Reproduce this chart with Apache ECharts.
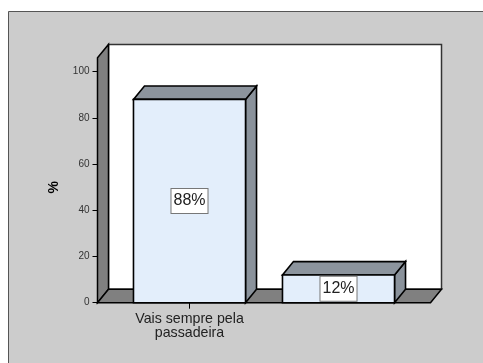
<!DOCTYPE html>
<html>
<head>
<meta charset="utf-8">
<script src="https://cdn.jsdelivr.net/npm/echarts@6/dist/echarts.min.js"></script>
<style>
  html, body { margin: 0; padding: 0; background: #fff; }
  #chart { width: 483px; height: 363px; }
</style>
</head>
<body>
<div id="chart"></div>
<script>
// data
const categories = ['Vais sempre pela\npassadeira', 'Passas onde for mais\npróximo'];
const percents = [88, 12];
const yTicks = [0, 20, 40, 60, 80, 100];

const myChart = echarts.init(document.getElementById('chart'), null, { renderer: 'canvas' });

// 3d look
const depthX = 11;
const depthY = 13.4;
const floorPad = 17.5;
const wallTop = 106;

function renderWalls(params, api) {
  const cs = params.coordSys;
  const y0 = api.coord([0, 0])[1];
  const yTop = api.coord([0, wallTop])[1];
  const xl = cs.x - floorPad;
  const xr = cs.x + cs.width + floorPad;
  const line = { stroke: '#000', lineWidth: 1.5 };
  return {
    type: 'group',
    children: [
      {
        type: 'polygon',
        shape: { points: [[xl + depthX, y0 - depthY], [xr + depthX, y0 - depthY], [xr + depthX, yTop - depthY], [xl + depthX, yTop - depthY]] },
        style: Object.assign({ fill: '#fff' }, line, { stroke: '#333' })
      },
      {
        type: 'polygon',
        shape: { points: [[xl, y0], [xl + depthX, y0 - depthY], [xl + depthX, yTop - depthY], [xl, yTop]] },
        style: Object.assign({ fill: '#808080' }, line)
      },
      {
        type: 'polygon',
        shape: { points: [[xl, y0], [xr, y0], [xr + depthX, y0 - depthY], [xl + depthX, y0 - depthY]] },
        style: Object.assign({ fill: '#808080' }, line)
      }
    ]
  };
}

function renderBar(params, api) {
  const c = api.coord([api.value(0), api.value(1)]);
  const base = api.coord([api.value(0), 0]);
  const half = api.size([1, 0])[0] * 0.376;
  const x1 = c[0] - half, x2 = c[0] + half;
  const yt = c[1], yb = base[1];
  const line = { stroke: '#000', lineWidth: 1.6 };
  return {
    type: 'group',
    children: [
      {
        type: 'polygon',
        shape: { points: [[x2, yt], [x2 + depthX, yt - depthY], [x2 + depthX, yb - depthY], [x2, yb]] },
        style: Object.assign({ fill: '#8a929b' }, line)
      },
      {
        type: 'polygon',
        shape: { points: [[x1, yt], [x2, yt], [x2 + depthX, yt - depthY], [x1 + depthX, yt - depthY]] },
        style: Object.assign({ fill: '#8c949d' }, line)
      },
      {
        type: 'rect',
        shape: { x: x1, y: yt, width: x2 - x1, height: yb - yt },
        style: Object.assign({ fill: '#e3eefb' }, line)
      },
      {
        type: 'text',
        x: c[0],
        y: (yt + yb) / 2,
        style: {
          text: api.value(1) + '%',
          align: 'center',
          verticalAlign: 'middle',
          fontFamily: 'Liberation Sans, Arial, sans-serif',
          fontSize: 16,
          fill: '#222',
          backgroundColor: '#fff',
          borderColor: '#777',
          borderWidth: 1,
          padding: [4, 2, 4, 2]
        }
      }
    ]
  };
}

const option = {
  backgroundColor: '#fff',
  animation: false,
  graphic: [
    {
      type: 'rect',
      shape: { x: 8.5, y: 11.5, width: 500, height: 400 },
      style: { fill: '#cccccc', stroke: '#555', lineWidth: 1 },
      z: -10
    }
  ],
  grid: { left: 115, right: 70, top: 71.7, bottom: 60.3 },
  xAxis: {
    type: 'category',
    data: categories,
    axisLine: { show: false },
    axisTick: { show: true, alignWithLabel: true, length: 6, lineStyle: { color: '#000' } },
    axisLabel: {
      margin: 10,
      fontFamily: 'Liberation Sans, Arial, sans-serif',
      fontSize: 14.2,
      lineHeight: 13.5,
      color: '#222'
    }
  },
  yAxis: {
    type: 'value',
    min: yTicks[0],
    max: yTicks[yTicks.length - 1],
    interval: yTicks[1] - yTicks[0],
    offset: floorPad,
    name: '%',
    nameLocation: 'middle',
    nameGap: 36,
    nameTextStyle: { fontFamily: 'Liberation Sans, Arial, sans-serif', fontSize: 14, fontWeight: 'bold', color: '#000' },
    axisLine: { show: false },
    axisTick: { show: true, length: 5, lineStyle: { color: '#000' } },
    splitLine: { show: false },
    axisLabel: {
      margin: 8,
      fontFamily: 'Liberation Sans, Arial, sans-serif',
      fontSize: 10,
      color: '#333'
    }
  },
  series: [
    {
      type: 'custom',
      renderItem: renderWalls,
      data: [[0, 0]],
      silent: true,
      z: 1
    },
    {
      type: 'custom',
      renderItem: renderBar,
      data: percents.map((v, i) => [i, v]),
      z: 2
    }
  ]
};

myChart.setOption(option);
</script>
</body>
</html>
